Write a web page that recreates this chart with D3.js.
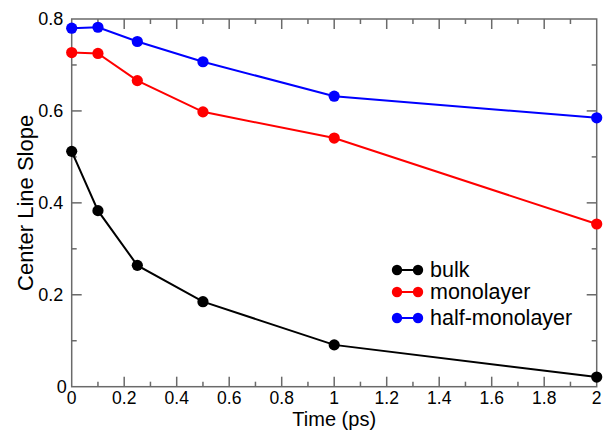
<!DOCTYPE html>
<html>
<head>
<meta charset="utf-8">
<script src="https://cdn.jsdelivr.net/npm/d3@7"></script>
<style>
  html, body { margin: 0; padding: 0; background: #fff; }
  svg { display: block; }
  text { font-family: "Liberation Sans", Arial, Helvetica, sans-serif; fill: #000; }
</style>
</head>
<body>
<svg id="chart" width="605" height="431"></svg>
<script>
// Time points (ps) and center-line slope for each system
const times = [0, 0.1, 0.25, 0.5, 1, 2];
const bulk = [0.512, 0.383, 0.264, 0.185, 0.091, 0.021];
const monolayer = [0.727, 0.725, 0.666, 0.598, 0.541, 0.354];
const halfMonolayer = [0.780, 0.782, 0.751, 0.707, 0.632, 0.585];

const seriesNames = ["bulk", "monolayer", "half-monolayer"];
const seriesColors = ["#000000", "#ff0000", "#0000ff"];
const seriesValues = [bulk, monolayer, halfMonolayer];

const xTicks = [0, 0.2, 0.4, 0.6, 0.8, 1, 1.2, 1.4, 1.6, 1.8, 2];
const xTickLabels = ["0", "0.2", "0.4", "0.6", "0.8", "1", "1.2", "1.4", "1.6", "1.8", "2"];
const yTicks = [0, 0.2, 0.4, 0.6, 0.8];
const yTickLabels = ["0", "0.2", "0.4", "0.6", "0.8"];

const svg = d3.select("#chart");
const plotL = 71.7, plotR = 596.7, plotT = 19, plotB = 386.7;

const x = d3.scaleLinear().domain([0, 2]).range([plotL, plotR]);
const y = d3.scaleLinear().domain([0, 0.8]).range([plotB, plotT]);

const frameColor = "#6a6a6a";
const majorLen = 10, minorLen = 5;
const xMinor = d3.range(0.1, 2, 0.2);
const yMinor = d3.range(0.1, 0.8, 0.2);

// Frame
svg.append("rect")
  .attr("x", plotL).attr("y", plotT)
  .attr("width", plotR - plotL).attr("height", plotB - plotT)
  .attr("fill", "none").attr("stroke", frameColor).attr("stroke-width", 1.5);

const ticks = svg.append("g").attr("stroke", frameColor).attr("stroke-width", 1.5);
// inward ticks on all four sides
xTicks.slice(1, -1).forEach(v => {
  ticks.append("line").attr("x1", x(v)).attr("x2", x(v)).attr("y1", plotB).attr("y2", plotB - majorLen);
  ticks.append("line").attr("x1", x(v)).attr("x2", x(v)).attr("y1", plotT).attr("y2", plotT + majorLen);
});
xMinor.forEach(v => {
  ticks.append("line").attr("x1", x(v)).attr("x2", x(v)).attr("y1", plotB).attr("y2", plotB - minorLen);
  ticks.append("line").attr("x1", x(v)).attr("x2", x(v)).attr("y1", plotT).attr("y2", plotT + minorLen);
});
yTicks.slice(1, -1).forEach(v => {
  ticks.append("line").attr("x1", plotL).attr("x2", plotL + majorLen).attr("y1", y(v)).attr("y2", y(v));
  ticks.append("line").attr("x1", plotR).attr("x2", plotR - majorLen).attr("y1", y(v)).attr("y2", y(v));
});
yMinor.forEach(v => {
  ticks.append("line").attr("x1", plotL).attr("x2", plotL + minorLen).attr("y1", y(v)).attr("y2", y(v));
  ticks.append("line").attr("x1", plotR).attr("x2", plotR - minorLen).attr("y1", y(v)).attr("y2", y(v));
});

// Tick labels
svg.append("g").selectAll("text").data(xTicks).join("text")
  .attr("x", d => x(d)).attr("y", plotB + 17.6)
  .attr("text-anchor", "middle").attr("font-size", 17.5)
  .text((d, i) => xTickLabels[i]);
svg.append("g").selectAll("text").data(yTicks).join("text")
  .attr("x", d => d === 0 ? plotL - 5 : plotL - 8.5).attr("y", d => y(d) + 6.3)
  .attr("text-anchor", "end").attr("font-size", 18)
  .text((d, i) => yTickLabels[i]);

// Axis titles
svg.append("text").attr("x", (plotL + plotR) / 2).attr("y", 426.3)
  .attr("text-anchor", "middle").attr("font-size", 20).text("Time (ps)");
svg.append("text").attr("transform", `translate(33,${(plotT + plotB) / 2}) rotate(-90)`)
  .attr("text-anchor", "middle").attr("font-size", 22).text("Center Line Slope");

// Series lines and markers
const line = d3.line().x(d => x(d[0])).y(d => y(d[1]));
seriesValues.forEach((vals, i) => {
  const pts = times.map((t, j) => [t, vals[j]]);
  svg.append("path").datum(pts).attr("d", line)
    .attr("fill", "none").attr("stroke", seriesColors[i]).attr("stroke-width", 2);
  svg.append("g").selectAll("circle").data(pts).join("circle")
    .attr("cx", d => x(d[0])).attr("cy", d => y(d[1])).attr("r", 5.6)
    .attr("fill", seriesColors[i]);
});

// Legend
const legend = svg.append("g");
seriesNames.forEach((name, i) => {
  const ly = [270, 292, 318][i];
  legend.append("line").attr("x1", 397).attr("x2", 418).attr("y1", ly).attr("y2", ly)
    .attr("stroke", seriesColors[i]).attr("stroke-width", 2);
  legend.append("circle").attr("cx", 397).attr("cy", ly).attr("r", 5.2).attr("fill", seriesColors[i]);
  legend.append("circle").attr("cx", 418).attr("cy", ly).attr("r", 5.2).attr("fill", seriesColors[i]);
  legend.append("text").attr("x", 430).attr("y", ly + 6.5).attr("font-size", 21.5).text(name);
});
</script>
</body>
</html>
